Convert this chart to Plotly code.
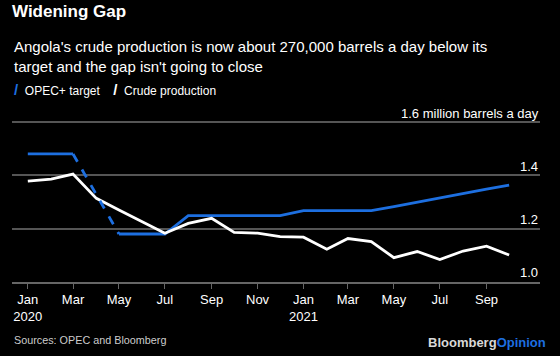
import plotly.graph_objects as go

months = ["2020-01-01","2020-02-01","2020-03-01","2020-04-01","2020-05-01","2020-06-01",
          "2020-07-01","2020-08-01","2020-09-01","2020-10-01","2020-11-01","2020-12-01",
          "2021-01-01","2021-02-01","2021-03-01","2021-04-01","2021-05-01","2021-06-01",
          "2021-07-01","2021-08-01","2021-09-01","2021-10-01"]

opec_target = [1.481, 1.481, 1.481, None, 1.180, 1.180, 1.180, 1.249, 1.249, 1.249, 1.249, 1.249,
               1.268, 1.268, 1.268, 1.268, 1.283, 1.300, 1.317, 1.333, 1.349, 1.364]
opec_dashed_months = ["2020-03-01", "2020-05-01"]
opec_dashed_values = [1.481, 1.180]

crude_production = [1.379, 1.386, 1.405, 1.314, 1.270, 1.226, 1.183, 1.220, 1.239, 1.186, 1.183, 1.170,
                    1.168, 1.123, 1.163, 1.151, 1.091, 1.114, 1.084, 1.116, 1.134, 1.101]

tick_months = ["2020-01-01","2020-03-01","2020-05-01","2020-07-01","2020-09-01","2020-11-01",
               "2021-01-01","2021-03-01","2021-05-01","2021-07-01","2021-09-01"]
tick_labels = ["Jan<br>2020","Mar","May","Jul","Sep","Nov","Jan<br>2021","Mar","May","Jul","Sep"]
x_range = ["2019-12-11", "2021-11-11"]

y_ticks = [1.0, 1.2, 1.4]
y_labels = ["1.0", "1.2", "1.4"]
y_top_tick = [1.6]
y_top_label = ["1.6 million barrels a day"]
y_range = [0.9995, 1.68]

legend_names = ["OPEC+ target", "Crude production"]

BLUE = "#1d6fe0"
FONT = "Liberation Sans, Arial, sans-serif"
H = 356.0
W = 560.0
PX_PER_UNIT = 160 / 0.6
PB = 282
PT = PB - (y_range[1] - y_range[0]) * PX_PER_UNIT
PL, PR = 12, 540


def px_x(px):
    return (px - PL) / (PR - PL)


def px_y(py):
    return (PB - py) / (PB - PT)


fig = go.Figure()
fig.add_trace(go.Scatter(x=months, y=opec_target, mode="lines", name=legend_names[0],
                         line=dict(color=BLUE, width=2.8), connectgaps=False))
fig.add_trace(go.Scatter(x=opec_dashed_months, y=opec_dashed_values, mode="lines",
                         showlegend=False, xaxis="x", yaxis="y2",
                         line=dict(color=BLUE, width=2.8, dash="dash")))
fig.add_trace(go.Scatter(x=months, y=crude_production, mode="lines", name=legend_names[1],
                         line=dict(color="#ffffff", width=2.8)))

common_y = dict(range=y_range, side="right", ticklabelposition="outside top",
                gridcolor="#555555", gridwidth=1.5, zeroline=False, showline=False,
                ticks="", tickfont=dict(size=13, color="#ffffff"))

fig.update_layout(
    width=560, height=356,
    paper_bgcolor="#000000", plot_bgcolor="#000000",
    margin=dict(l=PL, r=W - PR, t=PT, b=H - PB, autoexpand=False),
    font=dict(family=FONT, color="#ffffff", size=12),
    title=dict(text="<b>Widening Gap</b>", x=12 / W, xanchor="left", xref="container",
               y=1 - 5 / H, yanchor="top", yref="container",
               font=dict(size=17, color="#ffffff")),
    showlegend=False,
    xaxis=dict(type="date", range=x_range, tickvals=tick_months, ticktext=tick_labels,
               showgrid=False, showline=True, linecolor="#666666", linewidth=1.5,
               ticks="outside", ticklen=5, tickcolor="#666666", zeroline=False,
               tickfont=dict(size=13, color="#ffffff")),
    yaxis=dict(tickvals=y_ticks, ticktext=y_labels, showgrid=True,
               ticklabelstandoff=-21, **common_y),
    yaxis2=dict(tickvals=y_top_tick, ticktext=y_top_label, showgrid=True,
                overlaying="y", matches="y", anchor="x",
                ticklabelstandoff=-140, **common_y),
)

# legend (slash markers as in the original)
fig.add_annotation(text=f"<b><span style='color:{BLUE};font-size:15px'>/</span></b>  {legend_names[0]}    "
                        f"<b><span style='color:#ffffff;font-size:15px'>/</span></b>  {legend_names[1]}",
                   xref="paper", yref="paper", x=px_x(12), y=px_y(89),
                   xanchor="left", yanchor="middle", showarrow=False, align="left",
                   font=dict(size=12, color="#ffffff"))
fig.add_annotation(text="Angola's crude production is now about 270,000 barrels a day below its<br>target and the gap isn't going to close",
                   xref="paper", yref="paper", x=px_x(12), y=px_y(35),
                   xanchor="left", yanchor="top",
                   showarrow=False, align="left", font=dict(size=15, color="#ffffff"))
fig.add_annotation(text="Sources: OPEC and Bloomberg", xref="paper", yref="paper",
                   x=px_x(12), y=px_y(340), xanchor="left", yanchor="middle", showarrow=False,
                   font=dict(size=10.8, color="#cccccc"))
fig.add_annotation(text="<b><span style='color:#d8d8d8'>Bloomberg</span><span style='color:#1d6fe0'>Opinion</span></b>",
                   xref="paper", yref="paper", x=px_x(548), y=px_y(343),
                   xanchor="right", yanchor="middle",
                   showarrow=False, font=dict(size=13))

fig.write_html("out.html", config={"displayModeBar": False},
               post_script="document.body.style.margin='0';")
